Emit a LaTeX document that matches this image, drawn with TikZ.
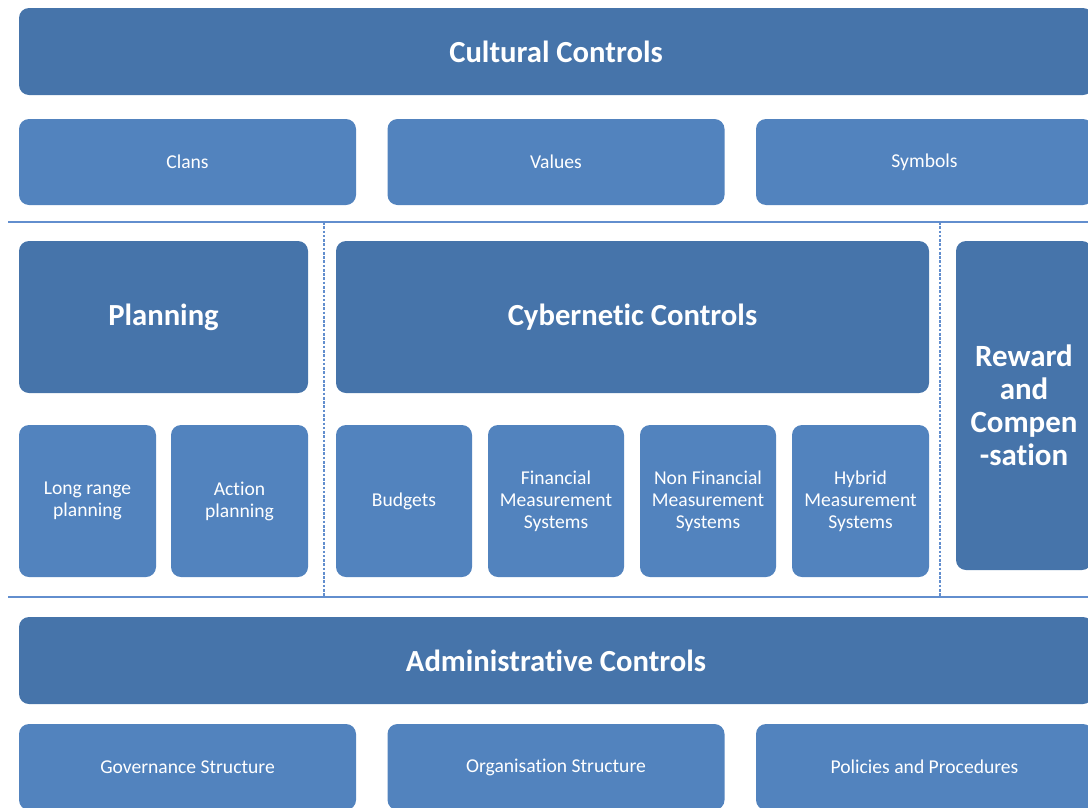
\documentclass[tikz,border=0pt]{standalone}
\usepackage{fontspec}
\setmainfont{Carlito}[Ligatures=NoCommon]
\newdimen\px \px=0.75pt
\definecolor{darkbox}{RGB}{70,116,170}
\definecolor{lightbox}{RGB}{82,131,190}
\definecolor{rule}{RGB}{98,142,206}
\begin{document}
\begin{tikzpicture}[x=0.75pt,y=-0.75pt,
  base/.style={rounded corners=10\px, inner sep=0pt, text=white, align=center},
  dark/.style={base, fill=darkbox},
  light/.style={base, fill=lightbox},
  title/.style={font=\bfseries\fontsize{23}{27}\selectfont},
  big/.style={font=\bfseries\fontsize{23.2}{24.8}\selectfont},
  small/.style={font=\fontsize{14.7}{16.5}\selectfont},
  sep/.style={draw=rule, line width=0.8pt},
  vsep/.style={draw=rule, line width=0.8pt, dash pattern=on 2pt off 1.2pt}]
\useasboundingbox[clip] (0,0) rectangle (1088,807);
% Cultural
\node[dark, title, minimum width=1074\px, minimum height=87\px] (cult) at (556,51.5) {Cultural Controls};
\node[light, small, minimum width=337\px, minimum height=86\px] (clans) at (187.5,162) {Clans};
\node[light, small, minimum width=337\px, minimum height=86\px] (values) at (556,162) {Values};
\node[light, small, minimum width=337\px, minimum height=86\px] (symbols) at (924.5,162) {Symbols};
% separators
\coordinate (h1a) at (8,222); \coordinate (h1b) at (1088,222);
\coordinate (h2a) at (8,597); \coordinate (h2b) at (1088,597);
\coordinate (v1a) at (324,222); \coordinate (v1b) at (324,597);
\coordinate (v2a) at (940,222); \coordinate (v2b) at (940,597);
\draw[sep] (h1a) -- (h1b);
\draw[sep] (h2a) -- (h2b);
\draw[vsep] (v1a) -- (v1b);
\draw[vsep] (v2a) -- (v2b);
% Middle
\node[dark, title, minimum width=289\px, minimum height=152\px] (plan) at (163.5,317) {Planning};
\node[dark, title, minimum width=593\px, minimum height=152\px] (cyber) at (632.5,317) {Cybernetic Controls};
\node[dark, big, minimum width=136\px, minimum height=329\px] (reward) at (1024,405.5) {Reward\\and\\Compen\\-sation};
\node[light, small, minimum width=137\px, minimum height=152\px] (lrp) at (87.5,501) {Long range\\planning};
\node[light, small, minimum width=137\px, minimum height=152\px] (ap) at (239.5,501) {Action\\planning};
\node[light, small, minimum width=136\px, minimum height=152\px] (bud) at (404,501) {Budgets};
\node[light, small, minimum width=136\px, minimum height=152\px] (fms) at (556,501) {Financial\\Measurement\\Systems};
\node[light, small, minimum width=136\px, minimum height=152\px] (nfms) at (708,501) {Non Financial\\Measurement\\Systems};
\node[light, small, minimum width=137\px, minimum height=152\px] (hms) at (860.5,501) {Hybrid\\Measurement\\Systems};
% Administrative
\node[dark, title, minimum width=1074\px, minimum height=87\px] (admin) at (556,660.5) {Administrative Controls};
\node[light, small, minimum width=337\px, minimum height=86\px] (gov) at (187.5,767) {Governance Structure};
\node[light, small, minimum width=337\px, minimum height=86\px] (org) at (556,767) {Organisation Structure};
\node[light, small, minimum width=337\px, minimum height=86\px] (pol) at (924.5,767) {Policies and Procedures};
\end{tikzpicture}
\end{document}
